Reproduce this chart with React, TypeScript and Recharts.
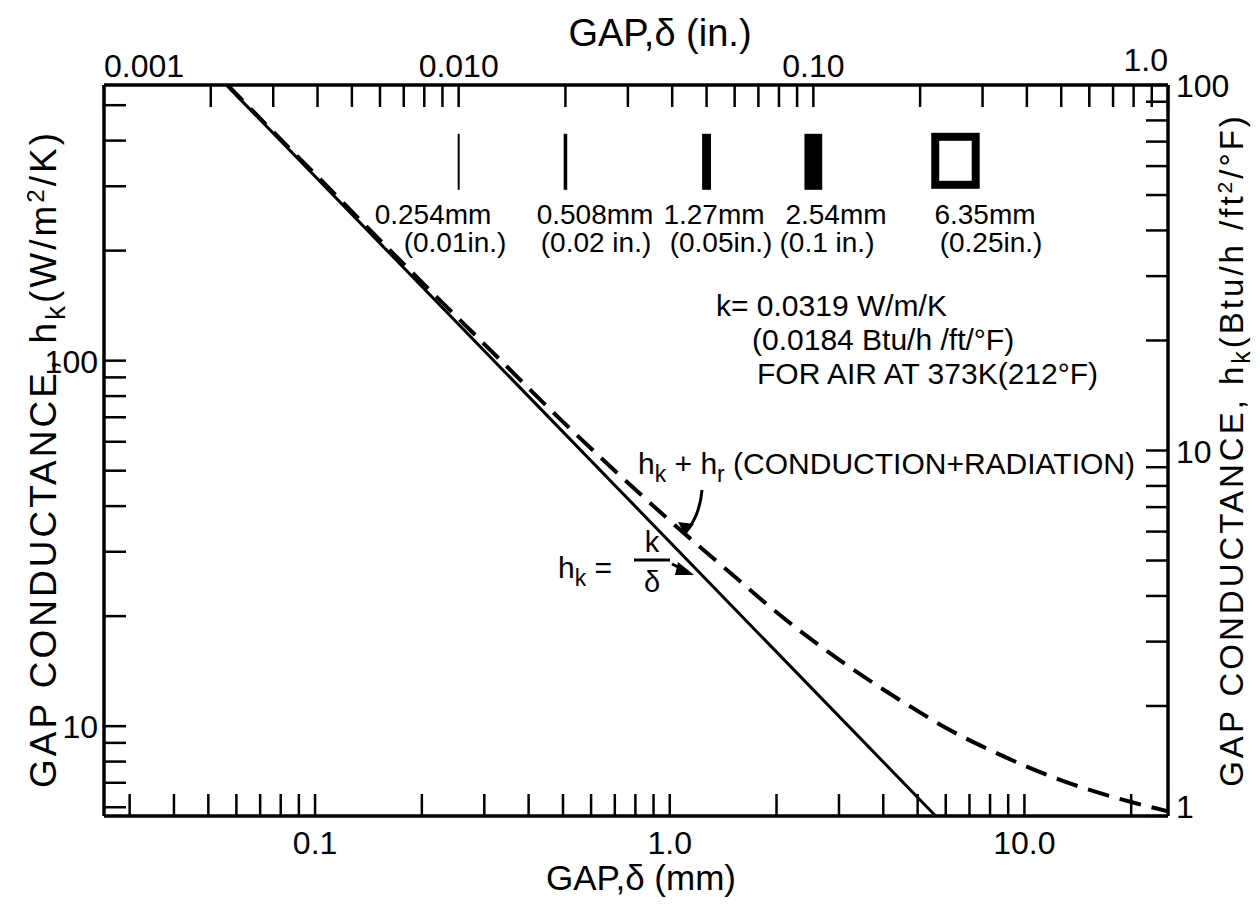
import React from 'react';
import { ComposedChart, Line, Scatter, XAxis, YAxis } from 'recharts';

// gap in mm, conductance in W/m2/K
const solidGapMm = [0.0562, 5.62];
const solidH = [568, 5.68];

const dashedGapMm = [0.0566, 0.08, 0.1, 0.15, 0.2, 0.3, 0.5, 0.7, 1.0, 1.5, 2.0, 3.0, 4.0, 5.0, 6.0, 8.0, 10, 13, 16, 20, 25.4];
const dashedH = [568, 403, 324, 217, 164, 111, 68, 50, 36.5, 26, 20.5, 15.2, 12.6, 11, 9.9, 8.6, 7.8, 7.05, 6.6, 6.2, 5.85];

// gap size samples drawn across the top
const sampleGapMm = [0.254, 0.508, 1.27, 2.54, 6.35];
const sampleMmLabels = ['0.254mm', '0.508mm', '1.27mm', '2.54mm', '6.35mm'];
const sampleInLabels = ['(0.01in.)', '(0.02 in.)', '(0.05in.)', '(0.1 in.)', '(0.25in.)'];
const sampleRowH = 350;

const mmTicks = [0.03, 0.04, 0.05, 0.06, 0.07, 0.08, 0.09, 0.1, 0.2, 0.3, 0.4, 0.5, 0.6, 0.7, 0.8, 0.9, 1, 2, 3, 4, 5, 6, 7, 8, 9, 10, 20];
const mmLabelAt = [0.1, 1, 10];
const mmLabelText = ['0.1', '1.0', '10.0'];
const inTicks = [0.001, 0.002, 0.003, 0.004, 0.005, 0.006, 0.007, 0.008, 0.009, 0.01, 0.02, 0.03, 0.04, 0.05, 0.06, 0.07, 0.08, 0.09, 0.1, 0.2, 0.3, 0.4, 0.5, 0.6, 0.7, 0.8, 0.9, 1];
const inLabelAt = [0.001, 0.01, 0.1, 1];
const inLabelText = ['0.001', '0.010', '0.10', '1.0'];
const wTicks = [6, 7, 8, 9, 10, 20, 30, 40, 50, 60, 70, 80, 90, 100, 200, 300, 400, 500];
const wLabelAt = [10, 100];
const wLabelText = ['10', '100'];
const btuTicks = [1, 2, 3, 4, 5, 6, 7, 8, 9, 10, 20, 30, 40, 50, 60, 70, 80, 90, 100];
const btuLabelAt = [1, 10, 100];
const btuLabelText = ['1', '10', '100'];

const solidData = solidGapMm.map((mm, i) => ({ mm, w: solidH[i] }));
const dashedData = dashedGapMm.map((mm, i) => ({ mm, w: dashedH[i] }));
const sampleData = sampleGapMm.map((mm) => ({ mm, w: sampleRowH }));

const FONT = '"Liberation Sans", Arial, sans-serif';
const TICK = 22;
const TW = 2.5;

function findLabel(v: any, at: number[], text: string[]) {
  const n = Number(v);
  const i = at.findIndex((a) => Math.abs(Math.log10(a) - Math.log10(n)) < 1e-6);
  return i >= 0 ? text[i] : null;
}

function BottomTick({ x, y, payload }: any) {
  const lab = findLabel(payload.value, mmLabelAt, mmLabelText);
  return (
    <g>
      <line x1={x} y1={y} x2={x} y2={y - TICK} stroke="#000" strokeWidth={TW} />
      {lab && (
        <text x={x} y={y + 38} textAnchor="middle" fontSize={32} fontFamily={FONT} fill="#000">
          {lab}
        </text>
      )}
    </g>
  );
}

function TopTick({ x, y, payload }: any) {
  const lab = findLabel(payload.value, inLabelAt, inLabelText);
  const n = Number(payload.value);
  const anchor = n < 0.0015 ? 'start' : n > 0.95 ? 'end' : 'middle';
  return (
    <g>
      <line x1={x} y1={y} x2={x} y2={y + TICK} stroke="#000" strokeWidth={TW} />
      {lab && (
        <text x={x} y={n > 0.95 ? y - 14 : y - 8} textAnchor={anchor} fontSize={32} fontFamily={FONT} fill="#000">
          {lab}
        </text>
      )}
    </g>
  );
}

function LeftTick({ x, y, payload }: any) {
  const lab = findLabel(payload.value, wLabelAt, wLabelText);
  return (
    <g>
      <line x1={x} y1={y} x2={x + TICK} y2={y} stroke="#000" strokeWidth={TW} />
      {lab && (
        <text x={x - 6} y={y + 12} textAnchor="end" fontSize={32} fontFamily={FONT} fill="#000">
          {lab}
        </text>
      )}
    </g>
  );
}

function RightTick({ x, y, payload }: any) {
  const lab = findLabel(payload.value, btuLabelAt, btuLabelText);
  const n = Number(payload.value);
  return (
    <g>
      <line x1={x} y1={y} x2={x - TICK} y2={y} stroke="#000" strokeWidth={TW} />
      {lab && (
        <text x={x + 8} y={n < 1.5 ? y + 2 : y + 12} textAnchor="start" fontSize={32} fontFamily={FONT} fill="#000">
          {lab}
        </text>
      )}
    </g>
  );
}

// gap sample: bar width ~7 px per mm of gap
function GapSample(props: any) {
  const { cx, cy, payload } = props;
  const w = Math.max(2, payload.mm * 7);
  const h = 56;
  if (payload.mm > 5) {
    return <rect x={cx - w / 2 + 3} y={cy - h / 2 + 3} width={w - 4} height={h - 8} fill="#fff" stroke="#000" strokeWidth={8} />;
  }
  return <rect x={cx - w / 2} y={cy - h / 2} width={w} height={h} fill="#000" />;
}

function Annotations() {
  const t = { fontFamily: FONT, fill: '#000' } as const;
  const sampleMmX = [433, 595, 714, 836, 985];
  const sampleInX = [455, 596, 721, 827, 991];
  return (
    <svg width={1260} height={905} style={{ position: 'absolute', left: 0, top: 0, pointerEvents: 'none' }}>
      <text x={660} y={46} textAnchor="middle" fontSize={38} {...t}>GAP,δ (in.)</text>
      <text x={641} y={890} textAnchor="middle" fontSize={35} {...t}>GAP,δ (mm)</text>
      <text transform="translate(56,459) rotate(-90)" textAnchor="middle" fontSize={37} letterSpacing={3} {...t}>
        GAP CONDUCTANCE, h<tspan fontSize={28} dy={9}>k</tspan>
        <tspan dy={-9}>(W/m</tspan>
        <tspan fontSize={24} dy={-12}>2</tspan>
        <tspan dy={12}>/K)</tspan>
      </text>
      <text transform="translate(1243,450) rotate(-90)" textAnchor="middle" fontSize={33} letterSpacing={3} {...t}>
        GAP CONDUCTANCE, h<tspan fontSize={25} dy={7}>k</tspan>
        <tspan dy={-7}>(Btu/h /ft</tspan>
        <tspan fontSize={21} dy={-11}>2</tspan>
        <tspan dy={11}>/°F)</tspan>
      </text>
      {sampleMmLabels.map((s, i) => (
        <text key={s} x={sampleMmX[i]} y={224} textAnchor="middle" fontSize={28} {...t}>{s}</text>
      ))}
      {sampleInLabels.map((s, i) => (
        <text key={s} x={sampleInX[i]} y={252} textAnchor="middle" fontSize={28} {...t}>{s}</text>
      ))}
      <text x={716} y={316} fontSize={30} {...t}>k= 0.0319 W/m/K</text>
      <text x={752} y={350} fontSize={30} {...t}>(0.0184 Btu/h /ft/°F)</text>
      <text x={757} y={384} fontSize={30} {...t}>FOR AIR AT 373K(212°F)</text>
      <text x={638} y={474} fontSize={30} {...t}>
        h<tspan fontSize={23} dy={8}>k</tspan>
        <tspan dy={-8}> + h</tspan>
        <tspan fontSize={23} dy={8}>r</tspan>
        <tspan dy={-8}> (CONDUCTION+RADIATION)</tspan>
      </text>
      <path d="M702,490 Q700,515 686,532" fill="none" stroke="#000" strokeWidth={3} />
      <path d="M678,522 L685,535 L694,524 Z" fill="#000" />
      <text x={558} y={578} fontSize={30} {...t}>
        h<tspan fontSize={23} dy={8}>k</tspan>
        <tspan dy={-8}> =</tspan>
      </text>
      <text x={652} y={552} textAnchor="middle" fontSize={29} {...t}>k</text>
      <line x1={634} y1={560} x2={670} y2={560} stroke="#000" strokeWidth={3} />
      <text x={652} y={592} textAnchor="middle" fontSize={29} {...t}>δ</text>
      <line x1={672} y1={564} x2={688} y2={572} stroke="#000" strokeWidth={3} />
      <path d="M678,562 L694,575 L675,575 Z" fill="#000" />
    </svg>
  );
}

export default function App() {
  const axisLine = { stroke: '#000', strokeWidth: 3.5 };
  return (
    <div style={{ position: 'relative', width: 1260, height: 905, margin: -8, background: '#fff' }}>
      <ComposedChart width={1260} height={905} margin={{ top: 45, right: 32, bottom: 49, left: 44 }}>
        <XAxis
          xAxisId="mm"
          dataKey="mm"
          type="number"
          scale="log"
          domain={[0.0254, 25.4]}
          allowDataOverflow
          ticks={mmTicks}
          interval={0}
          orientation="bottom"
          height={40}
          tickSize={0}
          tickMargin={0}
          tickLine={false}
          axisLine={axisLine}
          tick={<BottomTick />}
        />
        <XAxis
          xAxisId="in"
          dataKey="inch"
          type="number"
          scale="log"
          domain={[0.001, 1]}
          allowDataOverflow
          ticks={inTicks}
          interval={0}
          orientation="top"
          height={40}
          tickSize={0}
          tickMargin={0}
          tickLine={false}
          axisLine={axisLine}
          tick={<TopTick />}
        />
        <YAxis
          yAxisId="w"
          dataKey="w"
          type="number"
          scale="log"
          domain={[5.678, 567.8]}
          allowDataOverflow
          ticks={wTicks}
          interval={0}
          orientation="left"
          width={60}
          tickSize={0}
          tickMargin={0}
          tickLine={false}
          axisLine={axisLine}
          tick={<LeftTick />}
        />
        <YAxis
          yAxisId="btu"
          type="number"
          scale="log"
          domain={[1, 100]}
          allowDataOverflow
          ticks={btuTicks}
          interval={0}
          orientation="right"
          width={60}
          tickSize={0}
          tickMargin={0}
          tickLine={false}
          axisLine={axisLine}
          tick={<RightTick />}
        />
        <Line
          xAxisId="mm"
          yAxisId="w"
          data={solidData}
          dataKey="w"
          type="linear"
          stroke="#000"
          strokeWidth={3}
          dot={false}
          isAnimationActive={false}
        />
        <Line
          xAxisId="mm"
          yAxisId="w"
          data={dashedData}
          dataKey="w"
          type="monotone"
          stroke="#000"
          strokeWidth={4}
          strokeDasharray="22 11"
          dot={false}
          isAnimationActive={false}
        />
        <Scatter
          xAxisId="mm"
          yAxisId="w"
          data={sampleData}
          dataKey="w"
          shape={<GapSample />}
          isAnimationActive={false}
        />
      </ComposedChart>
      <Annotations />
    </div>
  );
}
